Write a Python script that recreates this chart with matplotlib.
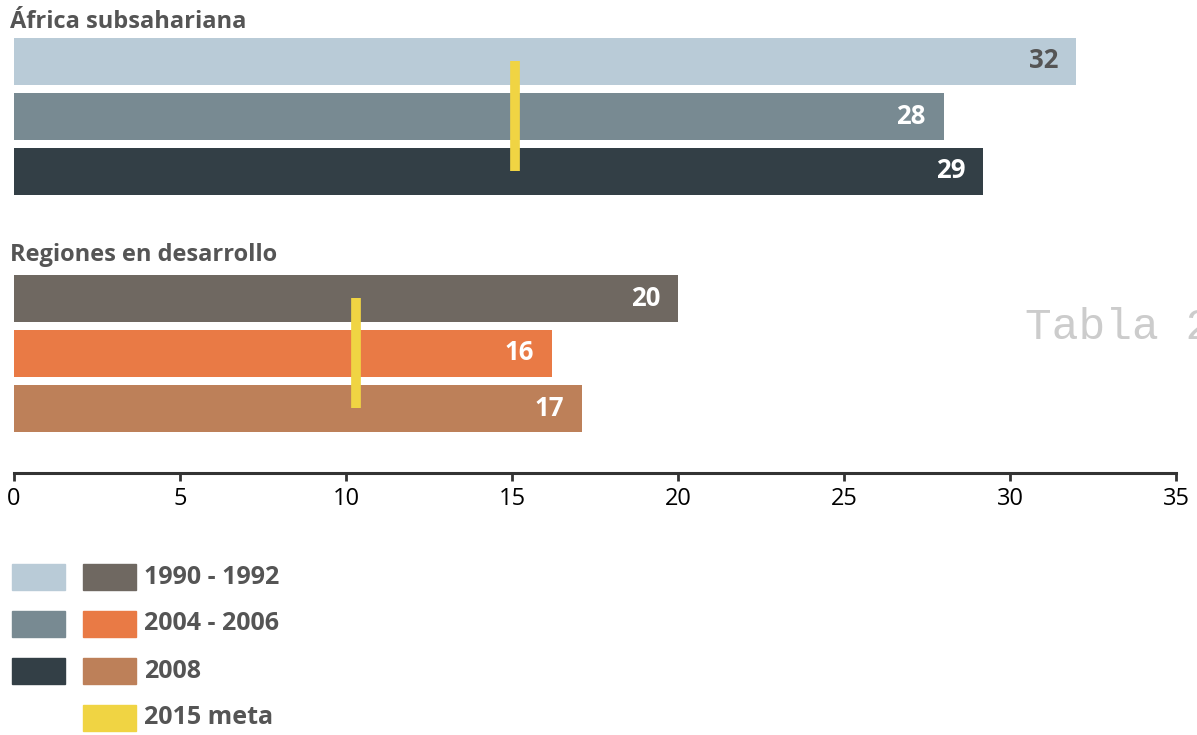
import matplotlib.pyplot as plt
from matplotlib.patches import Rectangle

plt.rcParams["font.family"] = ["Open Sans", "DejaVu Sans"]

# data
groups = ["África subsahariana", "Regiones en desarrollo"]
periods = ["1990 - 1992", "2004 - 2006", "2008"]
africa_values = [32, 28, 29.2]
developing_values = [20, 16.2, 17.1]
africa_labels = ["32", "28", "29"]
developing_labels = ["20", "16", "17"]
goal_values = [15.1, 10.3]  # 2015 meta
goal_label = "2015 meta"

africa_colors = ["#b9cbd7", "#788a92", "#333f46"]
developing_colors = ["#6f6861", "#e97a45", "#bd8059"]
goal_color = "#f0d443"
label_colors_africa = ["#555555", "white", "white"]
text_gray = "#555555"

W, H = 1197, 735
fig = plt.figure(figsize=(W / 100, H / 100), dpi=100)

# main axes: x in data units, y in pixel rows (top = 0)
ax = fig.add_axes([14 / W, 1 - 473 / H, 1162 / W, 473 / H])
ax.set_xlim(0, 35)
ax.set_ylim(473, 0)

group_tops = [61, 298]
step = 55
bar_h = 47
all_values = [africa_values, developing_values]
all_labels = [africa_labels, developing_labels]
all_colors = [africa_colors, developing_colors]
label_cols = [label_colors_africa, ["white"] * 3]
title_y = [22, 255]

for g in range(2):
    ys = [group_tops[g] + i * step for i in range(3)]
    ax.barh(ys, all_values[g], height=bar_h, color=all_colors[g], zorder=2)
    for y, v, lab, c in zip(ys, all_values[g], all_labels[g], label_cols[g]):
        ax.annotate(lab, (v, y), xytext=(-13, 0), textcoords="offset points",
                    ha="right", va="center", fontsize=18.5, fontweight="bold", color=c, zorder=4)
    ax.plot([goal_values[g], goal_values[g]], [ys[0], ys[-1]], color=goal_color,
            linewidth=7, solid_capstyle="butt", zorder=3)
    ax.text(-0.12, title_y[g], groups[g], ha="left", va="center", fontsize=17,
            fontweight="bold", color=text_gray, clip_on=False)

for s in ["top", "right", "left"]:
    ax.spines[s].set_visible(False)
ax.spines["bottom"].set_color("#333333")
ax.spines["bottom"].set_linewidth(2.2)
ax.set_yticks([])
ax.set_xticks(range(0, 36, 5))
ax.tick_params(axis="x", length=6, width=2, color="#333333", labelsize=17, pad=4)
ax.patch.set_visible(False)

# overlay in pixel coordinates for legend and watermark
lax = fig.add_axes([0, 0, 1, 1])
lax.set_xlim(0, W)
lax.set_ylim(H, 0)
lax.axis("off")
lax.patch.set_visible(False)

legend_rows = [577, 624, 671, 718]
legend_texts = periods + [goal_label]
for i, y in enumerate(legend_rows):
    if i < 3:
        lax.add_patch(Rectangle((12, y - 13), 53, 26, color=africa_colors[i]))
        lax.add_patch(Rectangle((83, y - 13), 53, 26, color=developing_colors[i]))
    else:
        lax.add_patch(Rectangle((83, y - 13), 53, 26, color=goal_color))
    lax.text(144, y, legend_texts[i], ha="left", va="center", fontsize=18,
             fontweight="bold", color=text_gray)

lax.text(1025, 327, "Tabla 2", ha="left", va="center", fontsize=32,
         family="Liberation Mono", color="#cccccc")

fig.savefig("out.png", dpi=100)
